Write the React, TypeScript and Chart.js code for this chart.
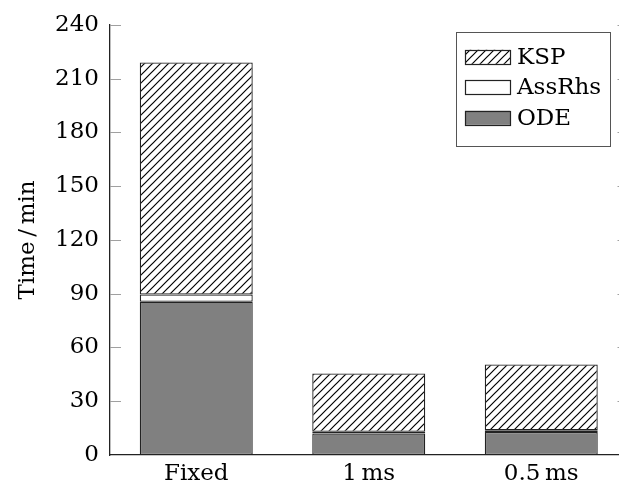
import React, { useEffect, useRef } from 'react';
import { Chart, registerables } from 'chart.js';

Chart.register(...registerables);

const categories = ['Fixed', '1\u2009ms', '0.5\u2009ms'];
const odeValues = [85.5, 12, 12.8];
const assRhsValues = [4, 1, 1];
const kspValues = [129.5, 32.5, 36.7];
const yTickValues = [0, 30, 60, 90, 120, 150, 180, 210, 240];
const yTitle = 'Time\u2009/\u2009min';

const FONT = '"DejaVu Serif", serif';
const FONT_SIZE = 23;

function makeHatch(): CanvasPattern | string {
  const size = 8;
  const tile = document.createElement('canvas');
  tile.width = size;
  tile.height = size;
  const c = tile.getContext('2d');
  if (!c) return '#ffffff';
  c.fillStyle = '#ffffff';
  c.fillRect(0, 0, size, size);
  c.strokeStyle = '#000000';
  c.lineWidth = 1.2;
  c.beginPath();
  c.moveTo(-1, size + 1);
  c.lineTo(size + 1, -1);
  c.moveTo(-1, 1);
  c.lineTo(1, -1);
  c.moveTo(size - 1, size + 1);
  c.lineTo(size + 1, size - 1);
  c.stroke();
  const ctx = document.createElement('canvas').getContext('2d');
  const p = ctx ? ctx.createPattern(tile, 'repeat') : null;
  return p || '#ffffff';
}

const decorPlugin = {
  id: 'decor',
  afterDatasetsDraw(chart: any) {
    const { ctx, chartArea, scales } = chart;
    const y = scales.y;
    ctx.save();
    ctx.strokeStyle = '#a0a0a0';
    ctx.lineWidth = 1;
    for (const v of yTickValues) {
      const py = Math.round(y.getPixelForValue(v)) + 0.5;
      if (v === 0) continue;
      ctx.beginPath();
      ctx.moveTo(chartArea.left, py);
      ctx.lineTo(chartArea.left + 11, py);
      ctx.moveTo(chartArea.right - 10, py);
      ctx.lineTo(chartArea.right, py);
      ctx.stroke();
    }
    ctx.restore();
  },
  afterDraw(chart: any) {
    const { ctx, chartArea } = chart;
    const boxRight = chartArea.right - 17.5;
    const boxLeft = boxRight - 154;
    const boxTop = chartArea.top + 7;
    const boxH = 114;
    ctx.save();
    ctx.fillStyle = '#ffffff';
    ctx.fillRect(boxLeft, boxTop, boxRight - boxLeft, boxH);
    ctx.strokeStyle = '#555555';
    ctx.lineWidth = 1;
    ctx.strokeRect(Math.round(boxLeft) + 0.5, Math.round(boxTop) + 0.5, Math.round(boxRight - boxLeft), boxH);
    const items = [...chart.data.datasets].reverse();
    ctx.font = `${FONT_SIZE}px ${FONT}`;
    ctx.textBaseline = 'middle';
    ctx.textAlign = 'left';
    items.forEach((ds: any, i: number) => {
      const sy = boxTop + 18 + i * 30.5;
      const sx = boxLeft + 9;
      ctx.fillStyle = ds.backgroundColor;
      ctx.fillRect(sx, sy, 45, 14);
      ctx.strokeStyle = '#222222';
      ctx.lineWidth = 1.2;
      ctx.strokeRect(Math.round(sx) + 0.5, Math.round(sy) + 0.5, 45, 14);
      ctx.fillStyle = '#000000';
      ctx.fillText(ds.label, sx + 52, sy + 8);
    });
    ctx.restore();
  },
};

export default function App() {
  const ref = useRef<HTMLCanvasElement | null>(null);

  useEffect(() => {
    if (!ref.current) return;
    const hatch = makeHatch();
    const common = { borderColor: '#222222', borderWidth: 1.3, borderSkipped: false as const, categoryPercentage: 1, barPercentage: 0.655 };
    const chart = new Chart(ref.current, {
      type: 'bar',
      data: {
        labels: categories,
        datasets: [
          { label: 'ODE', data: odeValues, backgroundColor: '#808080', ...common },
          { label: 'AssRhs', data: assRhsValues, backgroundColor: '#ffffff', ...common },
          { label: 'KSP', data: kspValues, backgroundColor: hatch as any, ...common },
        ],
      },
      options: {
        responsive: false,
        animation: false,
        layout: { padding: { top: 23, right: 12.5, left: 0, bottom: 0 } },
        plugins: { legend: { display: false }, tooltip: { enabled: false } },
        scales: {
          x: {
            stacked: true,
            offset: true,
            grid: { display: false, drawTicks: false },
            border: { display: true, color: '#222222', width: 1.3 },
            ticks: { color: '#000000', padding: 5, font: { family: FONT, size: FONT_SIZE } },
            afterFit: (s: any) => { s.height = 31; },
          },
          y: {
            stacked: true,
            min: 0,
            max: 240,
            grid: { display: false, drawTicks: false },
            border: { display: true, color: '#222222', width: 1.3 },
            afterBuildTicks: (s: any) => { s.ticks = yTickValues.map((v) => ({ value: v })); },
            ticks: { color: '#000000', padding: 11, font: { family: FONT, size: FONT_SIZE } },
            title: { display: true, text: yTitle, color: '#000000', padding: { top: 14, bottom: 0 }, font: { family: FONT, size: FONT_SIZE } },
            afterFit: (s: any) => { s.width = 110; },
          },
        },
      },
      plugins: [decorPlugin],
    });
    return () => chart.destroy();
  }, []);

  return (
    <div style={{ position: 'absolute', left: 0, top: 0, width: 619, height: 486, overflow: 'hidden', background: '#ffffff' }}>
      <canvas ref={ref} width={640} height={486} style={{ display: 'block', width: 640, height: 486 }} />
    </div>
  );
}
